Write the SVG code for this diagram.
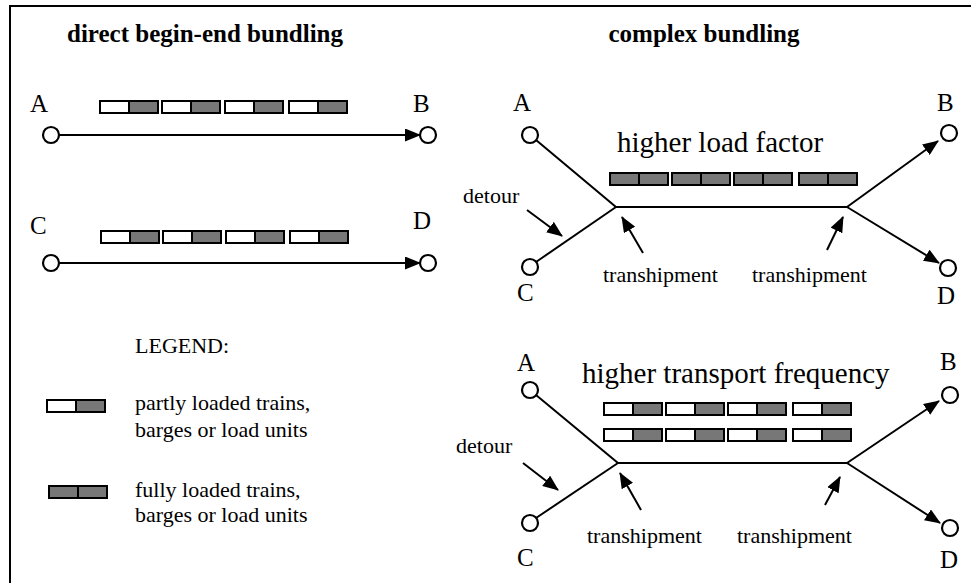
<svg xmlns="http://www.w3.org/2000/svg" width="971" height="583" viewBox="0 0 971 583">
<style>
text{font-family:"Liberation Serif","Times New Roman",serif;fill:#000}
.title{font-size:25px;font-weight:bold;text-anchor:middle}
.lbl{font-size:25px}
.sm{font-size:22px}
.big{font-size:29px}
.ln{stroke:#000;stroke-width:2;fill:none}
.node{fill:#fff;stroke:#000;stroke-width:2.2}
.w{fill:#fff;stroke:#000;stroke-width:2}
.g{fill:#777;stroke:#000;stroke-width:2}
</style>
<defs>
<marker id="ah" markerWidth="16" markerHeight="13" refX="15" refY="6.5" orient="auto" markerUnits="userSpaceOnUse">
<path d="M0,0 L16,6.5 L0,13 Z" fill="#000"/>
</marker>
<g id="pt"><rect class="w" x="0" y="0" width="29" height="12"/><rect class="g" x="29" y="0" width="29" height="12"/></g>
<g id="ft"><rect class="g" x="0" y="0" width="29" height="12"/><rect class="g" x="29" y="0" width="29" height="12"/></g>
</defs>
<rect width="971" height="583" fill="#fff"/>
<path d="M10,583 V6 H971" class="ln"/>

<text class="title" x="205" y="42">direct begin-end bundling</text>
<text class="title" x="704" y="42">complex bundling</text>

<g id="connectors">
<line class="ln" x1="59" y1="135" x2="420" y2="135" marker-end="url(#ah)"/>
<line class="ln" x1="59" y1="263" x2="420" y2="263" marker-end="url(#ah)"/>
<polyline class="ln" points="536,140 616,207 847,207"/>
<line class="ln" x1="536" y1="262" x2="616" y2="207"/>
<line class="ln" x1="847" y1="207" x2="938" y2="141" marker-end="url(#ah)"/>
<line class="ln" x1="847" y1="207" x2="939" y2="263" marker-end="url(#ah)"/>
<line class="ln" x1="527" y1="210" x2="562" y2="236" marker-end="url(#ah)"/>
<line class="ln" x1="643" y1="253" x2="622" y2="217" marker-end="url(#ah)"/>
<line class="ln" x1="827" y1="250" x2="843" y2="217" marker-end="url(#ah)"/>
<polyline class="ln" points="536,395 618,463 847,463"/>
<line class="ln" x1="536" y1="518" x2="618" y2="463"/>
<line class="ln" x1="847" y1="463" x2="939" y2="401" marker-end="url(#ah)"/>
<line class="ln" x1="847" y1="463" x2="940" y2="523" marker-end="url(#ah)"/>
<line class="ln" x1="523" y1="463" x2="558" y2="490" marker-end="url(#ah)"/>
<line class="ln" x1="641" y1="510" x2="620" y2="473" marker-end="url(#ah)"/>
<line class="ln" x1="825" y1="505" x2="840" y2="477" marker-end="url(#ah)"/>
</g>

<g id="left-AB">
<circle class="node" cx="51" cy="135" r="8"/><circle class="node" cx="428" cy="135" r="8"/>
<text class="lbl" x="30" y="112">A</text><text class="lbl" x="413" y="112">B</text>
<use href="#pt" x="100" y="101"/><use href="#pt" x="162" y="101"/><use href="#pt" x="225" y="101"/><use href="#pt" x="289" y="101"/>
</g>
<g id="left-CD">
<circle class="node" cx="51" cy="263" r="8"/><circle class="node" cx="428" cy="263" r="8"/>
<text class="lbl" x="30" y="234">C</text><text class="lbl" x="413" y="229">D</text>
<use href="#pt" x="101" y="231"/><use href="#pt" x="163" y="231"/><use href="#pt" x="226" y="231"/><use href="#pt" x="290" y="231"/>
</g>

<g id="legend">
<text class="sm" x="135" y="353">LEGEND:</text>
<use href="#pt" x="47" y="400"/>
<text class="sm" x="135" y="410">partly loaded trains,</text>
<text class="sm" x="135" y="437">barges or load units</text>
<use href="#ft" x="49" y="486"/>
<text class="sm" x="135" y="497">fully loaded trains,</text>
<text class="sm" x="135" y="522">barges or load units</text>
</g>

<g id="complex-top">
<circle class="node" cx="530" cy="135" r="8"/><circle class="node" cx="530" cy="267" r="8"/>
<circle class="node" cx="949" cy="133" r="8"/><circle class="node" cx="948" cy="268" r="8"/>
<text class="lbl" x="513" y="111">A</text><text class="lbl" x="517" y="301">C</text>
<text class="lbl" x="937" y="111">B</text><text class="lbl" x="937" y="304">D</text>
<text class="big" x="617" y="152">higher load factor</text>
<use href="#ft" x="610" y="173"/><use href="#ft" x="672" y="173"/><use href="#ft" x="734" y="173"/><use href="#ft" x="799" y="173"/>
<text class="sm" x="463" y="203">detour</text>
<text class="sm" x="603" y="282">transhipment</text>
<text class="sm" x="752" y="282">transhipment</text>
</g>

<g id="complex-bottom">
<circle class="node" cx="530" cy="390" r="8"/><circle class="node" cx="530" cy="523" r="8"/>
<circle class="node" cx="950" cy="395" r="8"/><circle class="node" cx="950" cy="528" r="8"/>
<text class="lbl" x="517" y="371">A</text><text class="lbl" x="517" y="566">C</text>
<text class="lbl" x="940" y="370">B</text><text class="lbl" x="940" y="568">D</text>
<text class="big" x="582" y="383">higher transport frequency</text>
<use href="#pt" x="604" y="403"/><use href="#pt" x="666" y="403"/><use href="#pt" x="728" y="403"/><use href="#pt" x="793" y="403"/>
<use href="#pt" x="604" y="429"/><use href="#pt" x="666" y="429"/><use href="#pt" x="728" y="429"/><use href="#pt" x="793" y="429"/>
<text class="sm" x="456" y="453">detour</text>
<text class="sm" x="587" y="543">transhipment</text>
<text class="sm" x="737" y="543">transhipment</text>
</g>
</svg>
